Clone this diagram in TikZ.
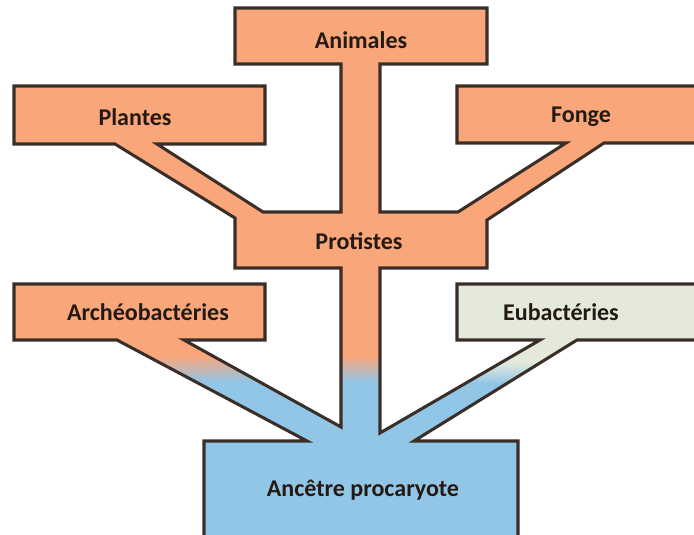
\documentclass[tikz,border=0pt]{standalone}
\usepackage{fontspec}
\setmainfont{Carlito}
\definecolor{salmon}{HTML}{F9A67B}
\definecolor{skyb}{HTML}{92C6E6}
\definecolor{paleg}{HTML}{E4E9DC}
\definecolor{edge}{HTML}{3A2E28}
\definecolor{ink}{HTML}{231A14}
\tikzset{
  lbl/.style={font=\bfseries\fontsize{20.5}{24}\selectfont, text=ink, inner sep=0pt},
  outline/.style={draw=edge, line width=2.6pt, line join=miter}
}
\begin{document}
\begin{tikzpicture}[x=0.03cm,y=-0.03cm]
\useasboundingbox (0,0) rectangle (694,535);
\path[save path=\treepath]
  (235,8) -- (487,8) -- (487,64) -- (380,64) -- (380,212) -- (458,212)
  -- (566,143) -- (457,143) -- (457,86) -- (705,86) -- (705,143) -- (604,143)
  -- (487,220) -- (487,268) -- (380,268) -- (380,433) -- (540,340)
  -- (457,340) -- (457,284) -- (705,284) -- (705,340) -- (577,340)
  -- (414,441) -- (518,441) -- (518,545) -- (204,545) -- (204,441) -- (307,441)
  -- (117,340) -- (14,340) -- (14,284) -- (265,284) -- (265,340) -- (184,340)
  -- (341,427) -- (341,268) -- (235,268) -- (235,218) -- (115,144)
  -- (14,144) -- (14,86) -- (265,86) -- (265,144) -- (157,144) -- (263,212)
  -- (341,212) -- (341,64) -- (235,64) -- cycle;
\fill[salmon, use path=\treepath];
\begin{scope}
  \clip[use path=\treepath];
  \fill[paleg] (381,276) rectangle (710,362);
  \shade[top color=paleg, bottom color=skyb] (381,362) rectangle (710,384);
  \shade[top color=salmon, bottom color=skyb] (0,356) rectangle (381,382);
  \fill[skyb] (0,382) rectangle (710,550);
\end{scope}
\draw[outline, use path=\treepath];
\node[lbl] (animales) at (361,40) {Animales};
\node[lbl] (plantes) at (135,117) {Plantes};
\node[lbl] (fonge) at (581,117) {Fonge};
\node[lbl] (protistes) at (359,241) {Protistes};
\node[lbl] (archeo) at (148,312) {Archéobactéries};
\node[lbl] (eubact) at (561,312) {Eubactéries};
\node[lbl] (ancetre) at (363,490) {Ancêtre procaryote};
\end{tikzpicture}
\end{document}
